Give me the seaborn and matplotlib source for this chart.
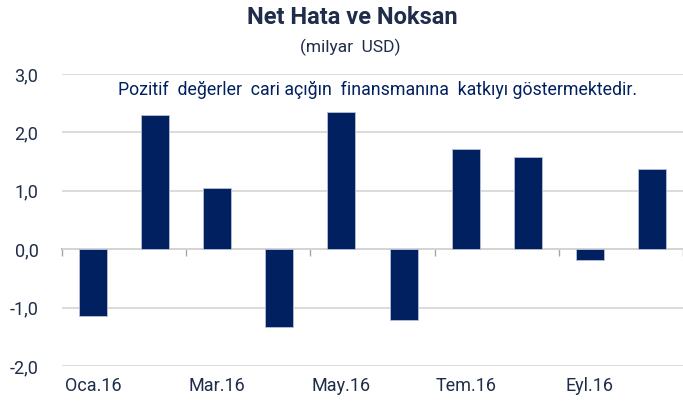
import pandas as pd
import matplotlib.pyplot as plt
import matplotlib.ticker as mticker
import seaborn as sns

# Net hata ve noksan, 2016 (milyar USD)
months = ["Oca.16", "Şub.16", "Mar.16", "Nis.16", "May.16",
          "Haz.16", "Tem.16", "Ağu.16", "Eyl.16", "Eki.16"]
values = [-1.14, 2.30, 1.04, -1.34, 2.35, -1.21, 1.72, 1.58, -0.18, 1.38]
shown_labels = ["Oca.16", "Mar.16", "May.16", "Tem.16", "Eyl.16"]

df = pd.DataFrame({"ay": months, "deger": values})

navy = "#002060"
text_col = "#1f2d4a"

sns.set_style("white")
plt.rcParams["font.family"] = ["Roboto", "DejaVu Sans"]

fig = plt.figure(figsize=(6.83, 4.05), dpi=100)
ax = fig.add_axes([62 / 683, 39 / 405, 621 / 683, 292 / 405])

sns.barplot(data=df, x="ay", y="deger", order=months, color=navy,
            width=0.45, saturation=1, edgecolor="#b8c2d6", linewidth=0.6, ax=ax)

ax.set_ylim(-2, 3)
ax.set_xlim(-0.5, len(months) - 0.5)
ax.set_yticks([-2, -1, 0, 1, 2, 3])
ax.yaxis.set_major_formatter(mticker.FuncFormatter(lambda v, p: f"{v:.1f}".replace(".", ",")))
ax.yaxis.grid(True, color="#d9d9d9", linewidth=1.3)
ax.set_axisbelow(True)

# every second month labelled
ax.set_xticks([months.index(m) for m in shown_labels])
ax.set_xticklabels(shown_labels)
ax.tick_params(axis="x", length=0, pad=8, labelsize=13, labelcolor=text_col)
ax.tick_params(axis="y", length=0, pad=17, labelsize=13, labelcolor=text_col)
ax.set(xlabel="", ylabel="")
for s in ax.spines.values():
    s.set_visible(False)

# zero line with small category ticks
zero = ax.secondary_xaxis(2 / 5)
zero.set_xticks([-0.5, 1.5, 3.5, 5.5, 7.5, 9.5])
zero.set_xticklabels([])
zero.tick_params(direction="out", length=5, width=1, color="#a6a6a6")
zero.spines["bottom"].set_color("#a6a6a6")
zero.spines["bottom"].set_linewidth(1.3)

ax.text(0.508, 0.945, "Pozitif  değerler  cari açığın  finansmanına  katkıyı göstermektedir.",
        transform=ax.transAxes, ha="center", va="center", fontsize=12.8, color=navy)

fig.text(352 / 683, 1 - 18 / 405, "Net Hata ve Noksan", ha="center", va="center",
         fontsize=17, fontweight="bold", color=text_col)
fig.text(350 / 683, 1 - 47 / 405, "(milyar  USD)", ha="center", va="center",
         fontsize=12.5, color=text_col)

plt.savefig("out.png", dpi=100)
